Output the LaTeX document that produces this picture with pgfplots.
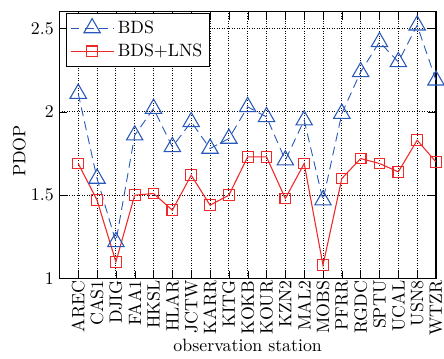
\documentclass[border=0pt]{standalone}
\usepackage{pgfplots}
\pgfplotsset{compat=1.18}
\definecolor{bdsblue}{RGB}{40,88,185}
\definecolor{lnsred}{RGB}{240,40,40}
\begin{document}
\begin{tikzpicture}
\begin{axis}[
  scale only axis,
  width=211.1pt, height=149.4pt,
  xmin=-1, xmax=19,
  ymin=1, ymax=2.6,
  xtick={0,...,19},
  xticklabels={AREC,CAS1,DJIG,FAA1,HKSL,HLAR,JCTW,KARR,KITG,KOKB,KOUR,KZN2,MAL2,MOBS,PFRR,RGDC,SPTU,UCAL,USN8,WTZR},
  xticklabel style={rotate=90, anchor=east, inner sep=1pt, font=\normalsize},
  yticklabel style={font=\normalsize, inner sep=1pt, xshift=-2pt},
  ytick={1,1.5,2,2.5},
  yticklabels={1,1.5,2,2.5},
  grid=major,
  major grid style={black, densely dotted, line width=0.5pt},
  axis line style={black, line width=0.6pt},
  tick style={black},
  xlabel={observation station},
  ylabel={PDOP},
  xlabel style={at={(axis description cs:0.5,0)}, anchor=base, yshift=-41.1pt, font=\normalsize},
  ylabel style={at={(axis description cs:0,0.5)}, anchor=center, yshift=22.5pt, xshift=-3.3pt, font=\normalsize},
  legend style={at={([xshift=3.7pt,yshift=-0.5pt]axis description cs:0,1)}, anchor=north west, draw=black, line width=0.5pt, inner sep=2pt, row sep=0.5pt, font=\normalsize},
  legend cell align=left,
  legend image code/.code={
    \draw[mark repeat=2,mark phase=2,#1]
      plot coordinates {(0cm,0cm) (0.425cm,0cm) (0.85cm,0cm)};
  },
]
\addplot[color=bdsblue, line width=0.5pt, dash pattern=on 5pt off 3pt, mark=triangle, mark size=5.3pt, mark options={solid, line width=0.6pt}]
coordinates {
(0,2.11) (1,1.60) (2,1.22) (3,1.86) (4,2.02) (5,1.79) (6,1.94) (7,1.78) (8,1.84) (9,2.03)
(10,1.97) (11,1.71) (12,1.95) (13,1.47) (14,1.99) (15,2.24) (16,2.42) (17,2.30) (18,2.52) (19,2.19)
};
\addlegendentry{BDS}
\addplot[color=lnsred, line width=0.6pt, solid, mark=square, mark size=3pt, mark options={solid, line width=0.6pt}]
coordinates {
(0,1.69) (1,1.47) (2,1.10) (3,1.50) (4,1.51) (5,1.41) (6,1.62) (7,1.44) (8,1.50) (9,1.73)
(10,1.73) (11,1.48) (12,1.69) (13,1.08) (14,1.60) (15,1.72) (16,1.69) (17,1.64) (18,1.83) (19,1.70)
};
\addlegendentry{BDS+LNS}
\end{axis}
\pgfresetboundingbox
\path[use as bounding box] ([xshift=-33.3pt,yshift=-45pt]current axis.south west) rectangle ([xshift=4.5pt,yshift=6.7pt]current axis.north east);
\end{tikzpicture}
\end{document}
